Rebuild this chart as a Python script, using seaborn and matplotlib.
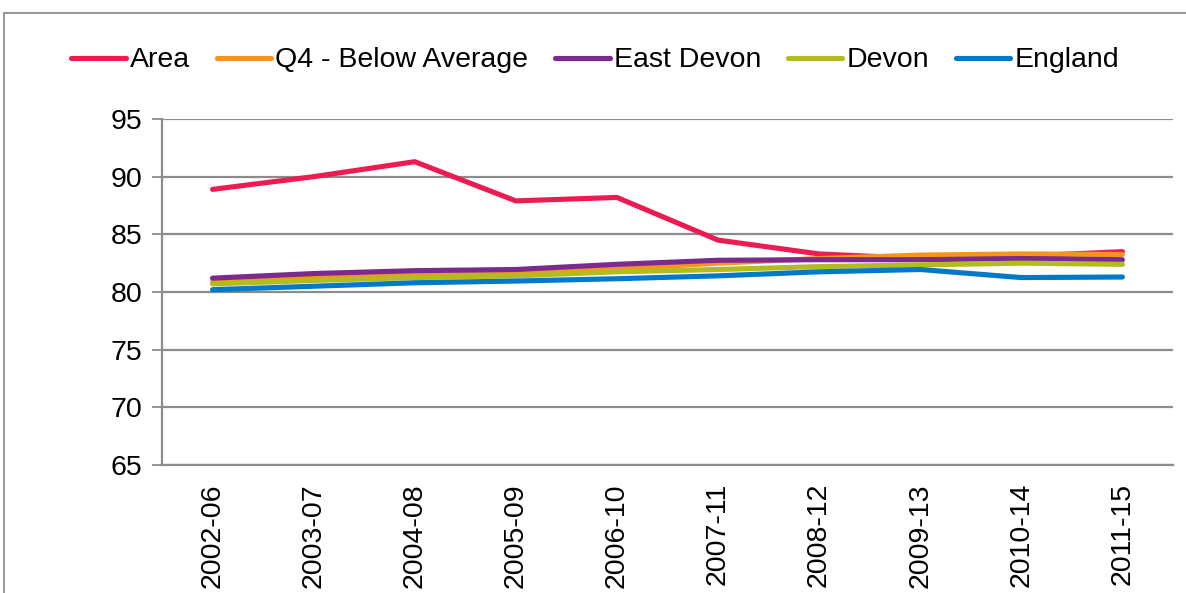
"""Recreate line chart: Area vs comparators, 2002-06 to 2011-15."""
import pandas as pd
import seaborn as sns
import matplotlib
matplotlib.use("Agg")
import matplotlib.pyplot as plt
from matplotlib.patches import Rectangle

# data
periods = ['2002-06', '2003-07', '2004-08', '2005-09', '2006-10',
           '2007-11', '2008-12', '2009-13', '2010-14', '2011-15']
area = [88.9, 90.0, 91.3, 87.9, 88.2, 84.5, 83.3, 82.9, 83.1, 83.5]
q4_below = [80.9, 81.3, 81.5, 81.6, 82.0, 82.5, 82.9, 83.2, 83.3, 83.25]
east_devon = [81.2, 81.6, 81.85, 81.95, 82.4, 82.75, 82.8, 82.8, 82.9, 82.8]
devon = [80.7, 81.0, 81.25, 81.4, 81.75, 81.95, 82.2, 82.35, 82.5, 82.4]
england = [80.2, 80.5, 80.8, 80.95, 81.15, 81.4, 81.75, 81.95, 81.25, 81.3]

series = {
    'Area': area,
    'Q4 - Below Average': q4_below,
    'East Devon': east_devon,
    'Devon': devon,
    'England': england,
}
colors = ['#EC1B52', '#F7941D', '#7B2A8E', '#B3BC1F', '#0079C9']

df = pd.DataFrame([
    {'period': p, 'pos': i, 'series': name, 'value': v}
    for name, vals in series.items()
    for i, (p, v) in enumerate(zip(periods, vals))
])

sns.set_theme(style='white')
plt.rcParams['font.family'] = ['Liberation Sans', 'DejaVu Sans']
plt.rcParams['text.color'] = 'black'
plt.rcParams['xtick.color'] = 'black'
plt.rcParams['ytick.color'] = 'black'

fig = plt.figure(figsize=(11.86, 5.93), dpi=100)
ax = fig.add_axes([0.1366, 0.2159, 0.8524, 0.5834])

sns.lineplot(data=df, x='pos', y='value', hue='series',
             hue_order=list(series.keys()), palette=colors,
             linewidth=3.7, ax=ax, legend=False, solid_capstyle='round')

grey = '#8C8C8C'
fs = 20.5
ax.set_xlim(-0.5, len(periods) - 0.5)
ax.set_ylim(65, 95)
ax.set_yticks(range(65, 96, 5))
ax.yaxis.grid(True, color=grey, linewidth=1.6)
ax.set_axisbelow(True)

ax.set_xticks(range(len(periods)))
ax.set_xticklabels(periods, rotation=90, fontsize=fs)
ax.set_xticks([i - 0.5 for i in range(len(periods) + 1)], minor=True)
ax.tick_params(axis='x', which='major', length=0, pad=13, labelcolor='black')
ax.tick_params(axis='x', which='minor', length=8, width=1.3, color=grey)
ax.tick_params(axis='y', which='major', length=7, width=1.3, color=grey,
               labelsize=fs, pad=7, direction='out', left=True,
               labelcolor='black')
ax.set_xlabel('')
ax.set_ylabel('')

for side in ['top', 'right']:
    ax.spines[side].set_visible(False)
for side in ['left', 'bottom']:
    ax.spines[side].set_color(grey)
    ax.spines[side].set_linewidth(1.6)

# legend handles
handles = [plt.Line2D([], [], color=c, linewidth=3.7, solid_capstyle='round')
           for c in colors]
fig.legend(handles, list(series.keys()), loc='center', ncol=5,
           bbox_to_anchor=(0.502, 0.898), frameon=False, fontsize=fs,
           handlelength=1.9, handletextpad=0.15, columnspacing=0.95,
           labelcolor='black')

# outer chart border (cropped at right and bottom)
fig.patches.append(Rectangle((4 / 1186, -0.1), 1.2, 1.1 - 13 / 593,
                             transform=fig.transFigure, fill=False,
                             edgecolor='#9A9A9A', linewidth=1.5))

fig.savefig('out.png', dpi=100)
